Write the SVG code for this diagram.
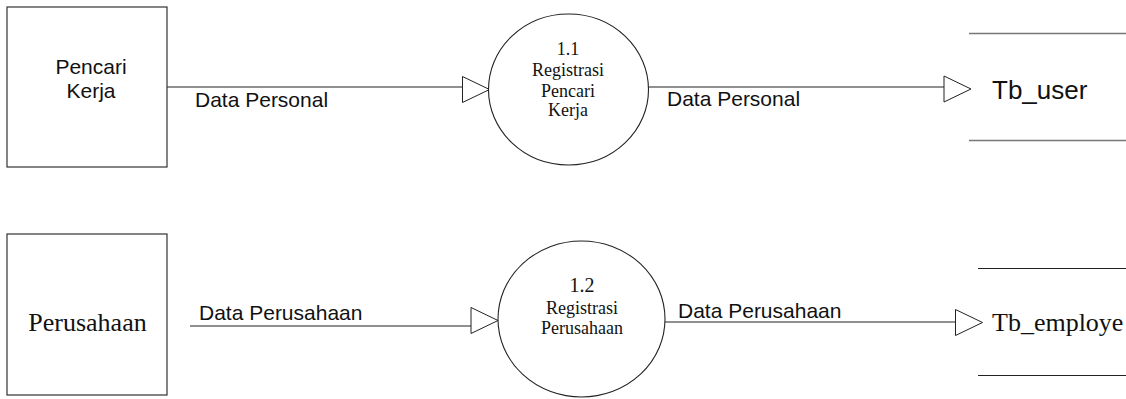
<svg xmlns="http://www.w3.org/2000/svg" xmlns:xlink="http://www.w3.org/1999/xlink" width="1126" height="399" viewBox="0 0 1126 399">
<style>
.ent{fill:#fff;stroke:#333;stroke-width:1.2}
.proc{fill:#fff;stroke:#222;stroke-width:1.1}
.flow{fill:none;stroke:#222;stroke-width:1.2}
.store{fill:none;stroke:#777;stroke-width:1.6}
.sans{font-family:"Liberation Sans",Arial,sans-serif;fill:#111}
.serif{font-family:"Liberation Serif","Times New Roman",serif;fill:#111}
.arrow{fill:#fff;stroke:#222;stroke-width:1}
</style>
<defs>
<path id="arr" class="arrow" d="M0,0 L27,13 L0,26 Z"/>
</defs>
<rect width="1126" height="399" fill="#fff"/>
<g id="connectors">
<line class="flow" x1="167" y1="87" x2="462.5" y2="87"/>
<use xlink:href="#arr" x="462.5" y="76.5"/>
<text class="sans" x="195" y="107" font-size="21">Data Personal</text>
<line class="flow" x1="648.5" y1="87" x2="944" y2="87"/>
<use xlink:href="#arr" x="944" y="76"/>
<text class="sans" x="667" y="106" font-size="21">Data Personal</text>
<line class="flow" x1="190" y1="326" x2="471" y2="326"/>
<use xlink:href="#arr" x="471" y="307.5"/>
<text class="sans" x="199" y="320" font-size="21">Data Perusahaan</text>
<line class="flow" x1="665" y1="322" x2="955.5" y2="322"/>
<use xlink:href="#arr" x="955.5" y="309.5"/>
<text class="sans" x="678" y="318" font-size="21">Data Perusahaan</text>
</g>
<g id="pencari-kerja">
<rect class="ent" x="7" y="7" width="160" height="160"/>
<text class="sans" x="91" y="74" font-size="21" text-anchor="middle">Pencari</text>
<text class="sans" x="91" y="98" font-size="21" text-anchor="middle">Kerja</text>
</g>
<g id="perusahaan">
<rect class="ent" x="7" y="234" width="160" height="161"/>
<text class="serif" x="87.5" y="330.5" font-size="26" text-anchor="middle">Perusahaan</text>
</g>
<g id="proc-1-1">
<ellipse class="proc" cx="568.5" cy="89.5" rx="80" ry="75.5"/>
<text class="serif" x="568" y="55" font-size="18" text-anchor="middle">1.1</text>
<text class="serif" x="568" y="76" font-size="18" text-anchor="middle">Registrasi</text>
<text class="serif" x="568" y="97" font-size="18" text-anchor="middle">Pencari</text>
<text class="serif" x="568" y="116" font-size="18" text-anchor="middle">Kerja</text>
</g>
<g id="proc-1-2">
<ellipse class="proc" cx="581.5" cy="319" rx="83.5" ry="78"/>
<text class="serif" x="582" y="292" font-size="20" text-anchor="middle">1.2</text>
<text class="serif" x="582" y="314" font-size="18" text-anchor="middle">Registrasi</text>
<text class="serif" x="582" y="334" font-size="18" text-anchor="middle">Perusahaan</text>
</g>
<g id="tb-user">
<line class="store" x1="969" y1="33.5" x2="1126" y2="33.5"/>
<line class="store" x1="969" y1="140.5" x2="1126" y2="140.5"/>
<text class="sans" x="992" y="99" font-size="26">Tb_user</text>
</g>
<g id="tb-employe">
<line class="flow" x1="978" y1="268.5" x2="1126" y2="268.5"/>
<line class="flow" x1="978" y1="375.5" x2="1126" y2="375.5"/>
<text class="serif" x="992" y="331" font-size="26">Tb_employe</text>
</g>
</svg>
